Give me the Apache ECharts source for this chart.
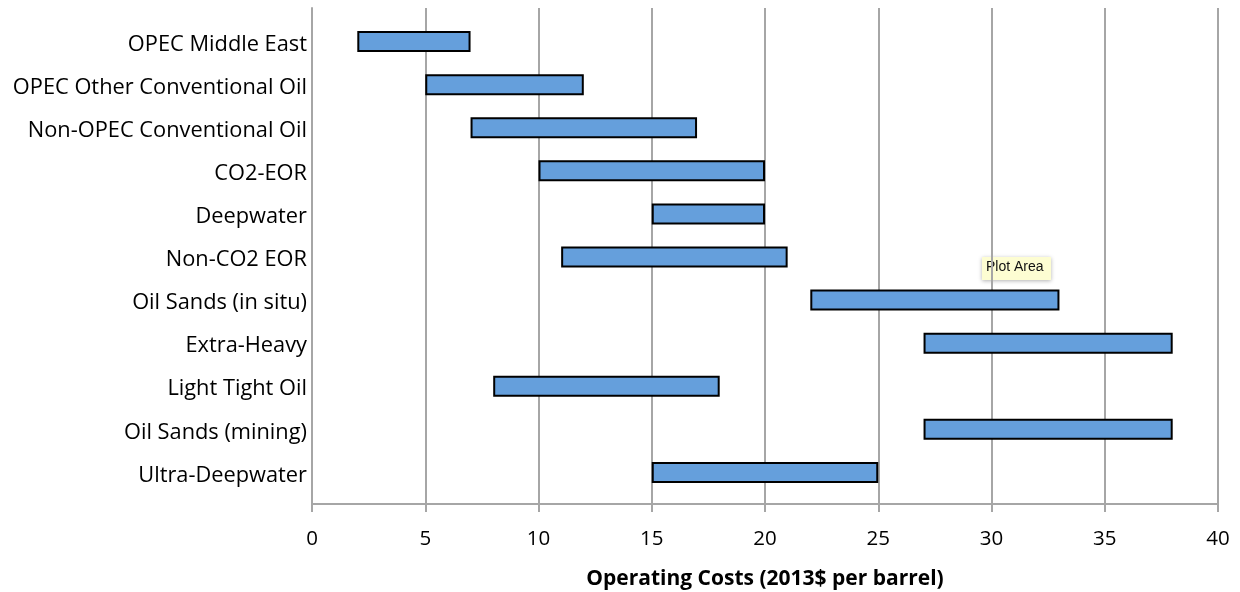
<!DOCTYPE html>
<html><head><meta charset="utf-8">
<script src="https://cdn.jsdelivr.net/npm/echarts@6/dist/echarts.min.js"></script>
<style>html,body{margin:0;padding:0;background:#fff}#c{width:1240px;height:592px}</style>
</head><body><div id="c"></div>
<script>
const categories = ['OPEC Middle East','OPEC Other Conventional Oil','Non-OPEC Conventional Oil','CO2-EOR','Deepwater','Non-CO2 EOR','Oil Sands (in situ)','Extra-Heavy','Light Tight Oil','Oil Sands (mining)','Ultra-Deepwater'];
const costLow  = [2, 5, 7, 10, 15, 11, 22, 27, 8, 27, 15];
const costHigh = [7, 12, 17, 20, 20, 21, 33, 38, 18, 38, 25];
const xTicks = [0,5,10,15,20,25,30,35,40];
const xTitle = 'Operating Costs (2013$ per barrel)';

const span = costHigh.map((h,i)=>h-costLow[i]);
const font = 'Open Sans';
const chart = echarts.init(document.getElementById('c'));
chart.setOption({
  animation:false,
  grid:[
    {left:312, right:22, top:20, bottom:98, outerBoundsMode:'none', containLabel:false},
    {left:312, right:22, top:8, bottom:88, outerBoundsMode:'none', containLabel:false},
    {left:312, right:22, top:23, bottom:95, outerBoundsMode:'none', containLabel:false}
  ],
  xAxis:[
    {gridIndex:0, type:'value', min:0, max:40, interval:5, show:false},
    {gridIndex:1, type:'value', min:xTicks[0], max:xTicks[xTicks.length-1], interval:5,
     axisLine:{show:true, lineStyle:{color:'#a6a6a6', width:2}},
     axisTick:{show:true, length:8, lineStyle:{color:'#a6a6a6', width:2}},
     axisLabel:{margin:25, fontFamily:font, fontSize:20.5, color:'#000'},
     splitLine:{show:true, lineStyle:{color:'#a6a6a6', width:2}},
     name:xTitle, nameLocation:'middle', nameGap:65,
     nameTextStyle:{fontFamily:font, fontSize:21, fontWeight:'bold', color:'#000'}},
    {gridIndex:2, type:'value', min:0, max:40, show:false}
  ],
  yAxis:[
    {gridIndex:0, type:'category', data:categories, inverse:true, show:false},
    {gridIndex:1, type:'value', min:0, max:1, axisLabel:{show:false}, axisTick:{show:false}, splitLine:{show:false},
     axisLine:{show:true, lineStyle:{color:'#a6a6a6', width:2}}},
    {gridIndex:2, type:'category', data:categories, inverse:true,
     axisLine:{show:false}, axisTick:{show:false}, splitLine:{show:false},
     axisLabel:{margin:5, fontFamily:font, fontSize:21.8, color:'#000'}}
  ],
  series:[
    {type:'bar', stack:'r', xAxisIndex:0, yAxisIndex:0, data:costLow, barWidth:21,
     itemStyle:{color:'transparent'}, silent:true},
    {type:'bar', stack:'r', xAxisIndex:0, yAxisIndex:0, data:span, barWidth:21,
     itemStyle:{color:'#659fdc', borderColor:'#000', borderWidth:2}}
  ],
  graphic:[
    {type:'group', left:982, top:257, children:[
      {type:'rect', shape:{x:0,y:0,width:69,height:23}, style:{fill:'#fdfdd2', shadowBlur:4, shadowColor:'rgba(0,0,0,0.3)', shadowOffsetY:1}},
      {type:'text', x:4, y:3, style:{text:'Plot Area', font:'14px "Liberation Sans"', fill:'#111'}}
    ]}
  ]
});
</script></body></html>
